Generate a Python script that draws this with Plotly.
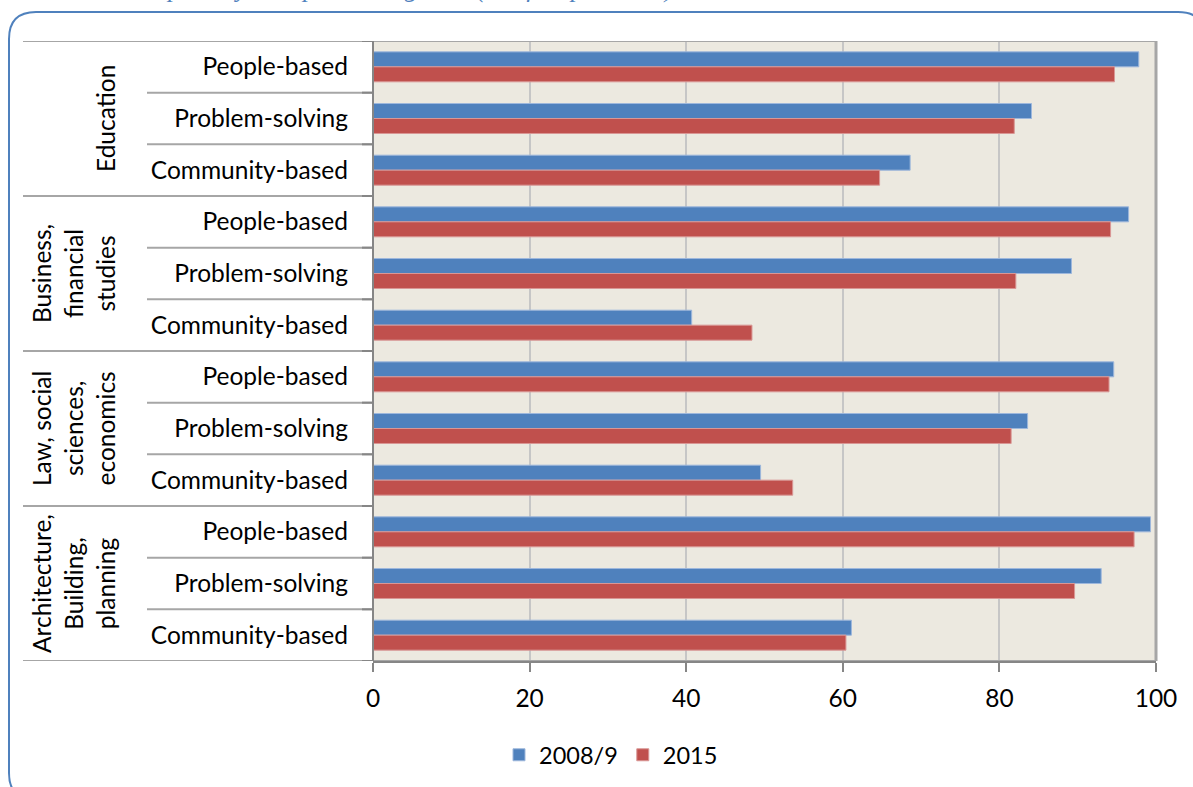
import plotly.graph_objects as go

W, H = 1193, 787

groups = ["Education", "Business,<br>financial<br>studies", "Law, social<br>sciences,<br>economics",
          "Architecture,<br>Building,<br>planning"]
subcats = ["People-based", "Problem-solving", "Community-based"]

# valeurs (% des répondants), ordre haut -> bas
vals_2008 = [97.8, 84.1, 68.6,
             96.5, 89.2, 40.7,
             94.6, 83.6, 49.5,
             99.3, 93.0, 61.1]
vals_2015 = [94.7, 81.9, 64.7,
             94.2, 82.1, 48.4,
             94.0, 81.5, 53.6,
             97.2, 89.6, 60.4]

x_ticks = [0, 20, 40, 60, 80, 100]

FONT = "Lato"
FS = 24.5
BLUE = "#4F81BD"
RED = "#C0504D"

labels = [s for g in groups for s in subcats]
rows = list(range(len(labels)))

# zone de tracé en pixels
PX0, PX1 = 373, 1156
PY0, PY1 = 41, 661


def px(x):
    return x / W


def py(y):
    return 1 - y / H


fig = go.Figure()
fig.add_trace(go.Bar(y=rows, x=vals_2008, orientation="h", name="2008/9",
                     marker=dict(color=BLUE, line=dict(color="#9DB7DC", width=1))))
fig.add_trace(go.Bar(y=rows, x=vals_2015, orientation="h", name="2015",
                     marker=dict(color=RED, line=dict(color="#D99795", width=1))))

shapes = []
n = len(labels)
# séparateurs des sous-catégories / groupes
for k in range(n + 1):
    b = k - 0.5
    is_group = (k % len(subcats) == 0)
    x_start = 23 if is_group else 147
    x_end = PX1 if k in (0, n) else PX0
    shapes.append(dict(type="line", xref="paper", yref="y",
                       x0=px(x_start), x1=px(x_end), y0=b, y1=b,
                       line=dict(color="#A6A6A6", width=2)))
    # petites graduations à gauche de l'axe
    shapes.append(dict(type="line", xref="paper", yref="y",
                       x0=px(PX0 - 11), x1=px(PX0), y0=b, y1=b,
                       line=dict(color="#868686", width=2)))
# bord droit et axe vertical
shapes.append(dict(type="line", xref="paper", yref="paper",
                   x0=px(PX1), x1=px(PX1), y0=py(PY0), y1=py(PY1),
                   line=dict(color="#A6A6A6", width=3)))
shapes.append(dict(type="line", xref="paper", yref="paper",
                   x0=px(PX0), x1=px(PX0), y0=py(PY0), y1=py(PY1),
                   line=dict(color="#868686", width=2)))

# cadre arrondi bleu
r = 27
x0b, y0b, x1b, y1b = 9, 12, 1205, 800
path = (f"M {px(x0b + r)},{py(y0b)} L {px(x1b - r)},{py(y0b)} "
        f"Q {px(x1b)},{py(y0b)} {px(x1b)},{py(y0b + r)} "
        f"L {px(x1b)},{py(y1b - r)} Q {px(x1b)},{py(y1b)} {px(x1b - r)},{py(y1b)} "
        f"L {px(x0b + r)},{py(y1b)} Q {px(x0b)},{py(y1b)} {px(x0b)},{py(y1b - r)} "
        f"L {px(x0b)},{py(y0b + r)} Q {px(x0b)},{py(y0b)} {px(x0b + r)},{py(y0b)} Z")
shapes.append(dict(type="path", xref="paper", yref="paper", path=path,
                   line=dict(color=BLUE, width=2), layer="below"))

annotations = []
for i, g in enumerate(groups):
    annotations.append(dict(text=g, xref="paper", yref="y", x=px(122), y=i * 3 + 1,
                            xanchor="right", yanchor="middle", textangle=-90,
                            showarrow=False, align="center",
                            font=dict(family=FONT, size=FS, color="black")))
# légende du haut (coupée par le bord, comme sur l'original)
annotations.append(dict(text="<i>competency discipline categories (% of respondents)</i>",
                        xref="paper", yref="paper", x=px(676), y=py(5),
                        xanchor="right", yanchor="bottom", showarrow=False,
                        font=dict(family="Liberation Serif", size=26, color="#4F81BD")))

fig.update_layout(
    width=W, height=H,
    margin=dict(l=0, r=0, t=0, b=0),
    paper_bgcolor="white",
    plot_bgcolor="#ECE9E0",
    barmode="group", bargap=0.42, bargroupgap=0,
    font=dict(family=FONT, size=FS, color="black"),
    shapes=shapes, annotations=annotations,
    legend=dict(orientation="h", x=px(499), y=py(755), xanchor="left", yanchor="middle",
                font=dict(family=FONT, size=23.5), traceorder="normal"),
    xaxis=dict(domain=[px(PX0), px(PX1)], range=[0, 100], tickvals=x_ticks,
               showgrid=True, gridcolor="#C6C6C6", gridwidth=2,
               zeroline=False, showline=True, linecolor="#868686", linewidth=2,
               ticks="outside", ticklen=9, tickwidth=2, tickcolor="#868686",
               ticklabelstandoff=6, automargin=False, fixedrange=True),
    yaxis=dict(domain=[py(PY1), py(PY0)], range=[n - 0.5, -0.5], tickvals=rows,
               ticktext=labels, showgrid=False, zeroline=False, showline=False,
               ticks="", ticklabelstandoff=24, automargin=False, fixedrange=True),
)

# pas de marge autour du graphique dans la page
fig.write_html("out.html", config={"displayModeBar": False},
               post_script="document.body.style.margin='0';")
